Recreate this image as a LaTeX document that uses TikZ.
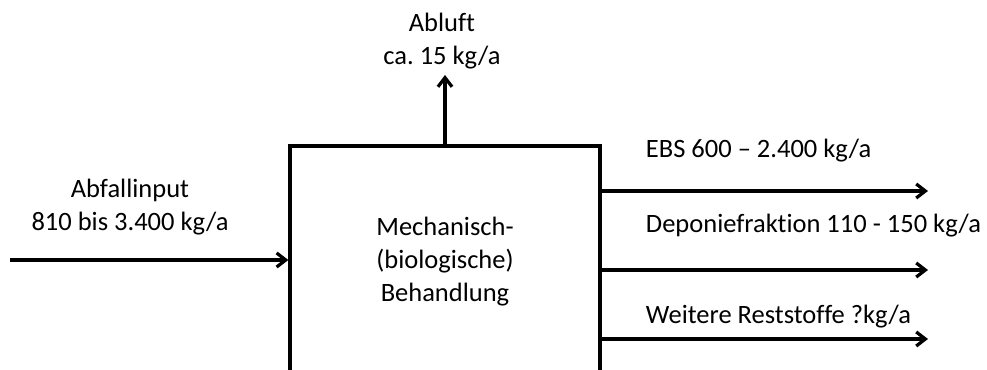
\documentclass[tikz,border=0pt]{standalone}
\usepackage{fontspec}
\setmainfont{Carlito}[Ligatures=NoCommon]
\usetikzlibrary{arrows.meta,positioning}

\begin{document}
\frenchspacing
\begin{tikzpicture}[font=\fontsize{18.85}{23.5}\selectfont,
    strom/.style={line width=2.3pt,-{Straight Barb[length=6.5pt,width=10pt]}},
    anlage/.style={draw,line width=2.3pt,minimum width=7.75cm,minimum height=5.8cm,align=center,inner sep=0pt}]
  \useasboundingbox (0,0) rectangle (24.675,9.225);
  % Anlage (unten offen, ragt aus dem Bild)
  \node[anlage] (mba) at (11.125,2.675) {Mechanisch-\\(biologische)\\Behandlung};
  % Input
  \coordinate (inp) at (0.25,2.725);
  \draw[strom] (inp) -- (inp -| mba.west);
  \node[align=center] (inptxt) at (3.25,4.05) {Abfallinput\\810 bis 3.400 kg/a};
  % Abluft
  \coordinate (abl) at (11.125,7.35);
  \draw[strom] (mba.north) -- (abl);
  \node[align=center] (abltxt) at (11.05,8.2) {Abluft\\ca. 15 kg/a};
  % Outputs
  \coordinate (ebs) at (23.2,4.45);
  \coordinate (dep) at (23.2,2.475);
  \coordinate (rest) at (23.2,0.75);
  \draw[strom] (mba.east |- ebs) -- (ebs);
  \draw[strom] (mba.east |- dep) -- (dep);
  \draw[strom] (mba.east |- rest) -- (rest);
  \node[anchor=base west] (ebstxt) at (16.025,5.3) {EBS 600 -- 2.400 kg/a};
  \node[anchor=base west] (deptxt) at (16.025,3.425) {Deponiefraktion 110 - 150 kg/a};
  \node[anchor=base west] (resttxt) at (16.025,1.15) {Weitere Reststoffe ?kg/a};
\end{tikzpicture}
\end{document}
